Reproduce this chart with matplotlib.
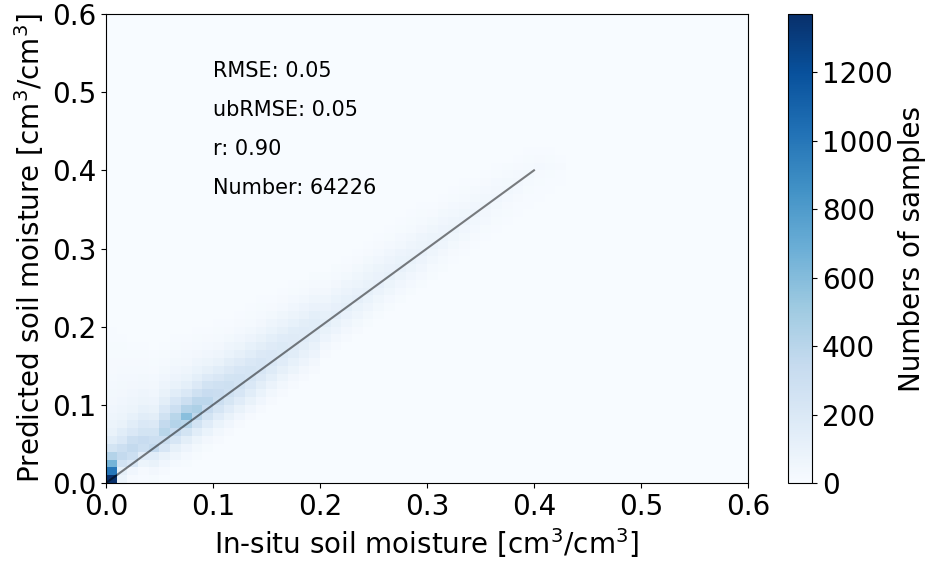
import numpy as np
import matplotlib
matplotlib.use('Agg')
import matplotlib.pyplot as plt

plt.rcParams['font.family'] = ['DejaVu Sans']

# 2D histogram counts, 0.01 bins, read per in-situ column: (first predicted bin, counts)
col_counts = {
    0: (0, [1370, 1000, 650, 420, 250, 150, 100, 80, 60, 50, 40, 35, 30, 25, 20, 20, 15, 15, 10, 10]),
    1: (0, [80, 120, 260, 350, 300, 200, 150, 100, 80, 60, 50, 40, 35, 30, 25, 20, 15, 15, 10]),
    2: (0, [20, 50, 200, 300, 350, 300, 200, 150, 110, 80, 60, 50, 40, 30, 25, 20, 15, 10]),
    3: (0, [10, 20, 80, 160, 300, 330, 250, 200, 150, 110, 80, 60, 45, 35, 25, 20, 15, 10]),
    4: (0, [15, 40, 100, 150, 350, 300, 250, 190, 140, 100, 70, 50, 40, 30, 20, 15, 10]),
    5: (1, [20, 50, 100, 220, 300, 400, 350, 270, 200, 140, 100, 70, 50, 35, 25, 15, 10]),
    6: (2, [25, 60, 120, 220, 330, 420, 400, 300, 220, 150, 100, 70, 50, 35, 25, 15, 10]),
    7: (2, [15, 30, 70, 140, 250, 400, 580, 420, 300, 200, 130, 90, 60, 40, 30, 20, 10]),
    8: (3, [15, 35, 80, 150, 260, 380, 450, 380, 280, 190, 130, 90, 60, 40, 25, 15, 10]),
    9: (4, [15, 40, 90, 160, 250, 330, 380, 330, 260, 180, 120, 80, 50, 30, 20, 10]),
    10: (5, [20, 45, 90, 160, 240, 300, 320, 280, 210, 150, 100, 65, 40, 25, 15, 10]),
    11: (6, [20, 50, 100, 160, 230, 280, 290, 250, 190, 140, 90, 60, 35, 20, 10]),
    12: (7, [20, 50, 100, 160, 220, 260, 260, 220, 170, 120, 80, 50, 30, 20, 10]),
    13: (8, [20, 50, 100, 150, 200, 240, 240, 200, 150, 110, 70, 45, 25, 15, 10]),
    14: (9, [20, 50, 90, 140, 190, 220, 220, 190, 140, 100, 65, 40, 25, 15, 10]),
    15: (10, [20, 45, 85, 130, 175, 200, 200, 170, 130, 90, 60, 35, 20, 10]),
    16: (11, [20, 45, 80, 120, 160, 185, 185, 160, 120, 85, 55, 30, 20, 10]),
    17: (12, [20, 40, 75, 110, 150, 170, 170, 150, 110, 75, 50, 30, 15, 10]),
    18: (13, [20, 40, 70, 105, 140, 160, 160, 140, 100, 70, 45, 25, 15]),
    19: (14, [20, 40, 70, 100, 130, 150, 150, 130, 95, 65, 40, 25, 15]),
    20: (16, [20, 40, 70, 100, 140, 120, 95, 65, 40, 25, 15]),
    21: (17, [20, 40, 70, 100, 135, 115, 90, 60, 40, 25, 15]),
    22: (18, [20, 40, 65, 95, 130, 110, 85, 60, 35, 20, 10]),
    23: (19, [20, 35, 60, 90, 125, 105, 80, 55, 35, 20, 10]),
    24: (20, [15, 35, 60, 90, 120, 100, 80, 55, 35, 20, 10]),
    25: (21, [15, 35, 55, 85, 115, 95, 75, 50, 30, 20, 10]),
    26: (22, [15, 30, 55, 80, 110, 95, 70, 50, 30, 15, 10]),
    27: (23, [15, 30, 50, 80, 105, 90, 70, 45, 30, 15, 10]),
    28: (24, [15, 30, 50, 75, 100, 85, 65, 45, 25, 15, 10]),
    29: (25, [15, 30, 50, 70, 95, 80, 60, 40, 25, 15, 10]),
    30: (26, [15, 25, 45, 65, 85, 75, 55, 35, 20, 10]),
    31: (27, [15, 25, 40, 60, 80, 70, 50, 35, 20, 10]),
    32: (28, [10, 20, 35, 55, 75, 60, 45, 30, 15, 10]),
    33: (29, [10, 20, 35, 50, 70, 55, 40, 25, 15, 10]),
    34: (30, [10, 20, 30, 45, 60, 50, 35, 25, 10]),
    35: (31, [10, 15, 30, 40, 55, 45, 30, 20, 10]),
    36: (32, [10, 15, 25, 35, 50, 40, 30, 15, 10]),
    37: (33, [10, 15, 20, 30, 45, 35, 25, 15]),
    38: (34, [10, 10, 20, 30, 40, 30, 20, 10]),
    39: (35, [10, 10, 15, 25, 35, 25, 15, 10]),
    40: (36, [10, 10, 15, 20, 30, 20, 10]),
    41: (37, [10, 10, 15, 25, 15, 10]),
    42: (38, [10, 10, 20, 10]),
}
bin_width = 0.01
n_bins = 60
stats_text = ['RMSE: 0.05', 'ubRMSE: 0.05', 'r: 0.90', 'Number: 64226']
stats_y = [0.52, 0.47, 0.42, 0.37]

# flatten to bin centres + weights for hist2d
xs, ys, ws = [], [], []
for ci, (start, vals) in col_counts.items():
    for k, v in enumerate(vals):
        xs.append((ci + 0.5) * bin_width)
        ys.append((start + k + 0.5) * bin_width)
        ws.append(v)

fig = plt.figure(figsize=(9.28, 5.63), dpi=100)
ax = fig.add_axes([0.1142, 0.1421, 0.6918, 0.8330])
cax = fig.add_axes([0.8491, 0.1421, 0.0259, 0.8330])

h = ax.hist2d(xs, ys, bins=n_bins, range=[[0, 0.6], [0, 0.6]], weights=ws, cmap='Blues')
ax.plot([0, 0.4], [0, 0.4], color='k', alpha=0.5, linewidth=1.5)

for s, yy in zip(stats_text, stats_y):
    ax.text(0.1, yy, s, fontsize=15, va='baseline')

ax.set_xlim(0, 0.6)
ax.set_ylim(0, 0.6)
ax.set_xticks(np.arange(0, 0.61, 0.1))
ax.set_yticks(np.arange(0, 0.61, 0.1))
ax.tick_params(labelsize=20)
ax.set_xlabel('In-situ soil moisture [cm$^3$/cm$^3$]', fontsize=20)
ax.set_ylabel('Predicted soil moisture [cm$^3$/cm$^3$]', fontsize=20)

cb = fig.colorbar(h[3], cax=cax)
cb.set_ticks([0, 200, 400, 600, 800, 1000, 1200])
cb.ax.tick_params(labelsize=20)
cb.set_label('Numbers of samples', fontsize=20)

fig.savefig('out.png', dpi=100)
